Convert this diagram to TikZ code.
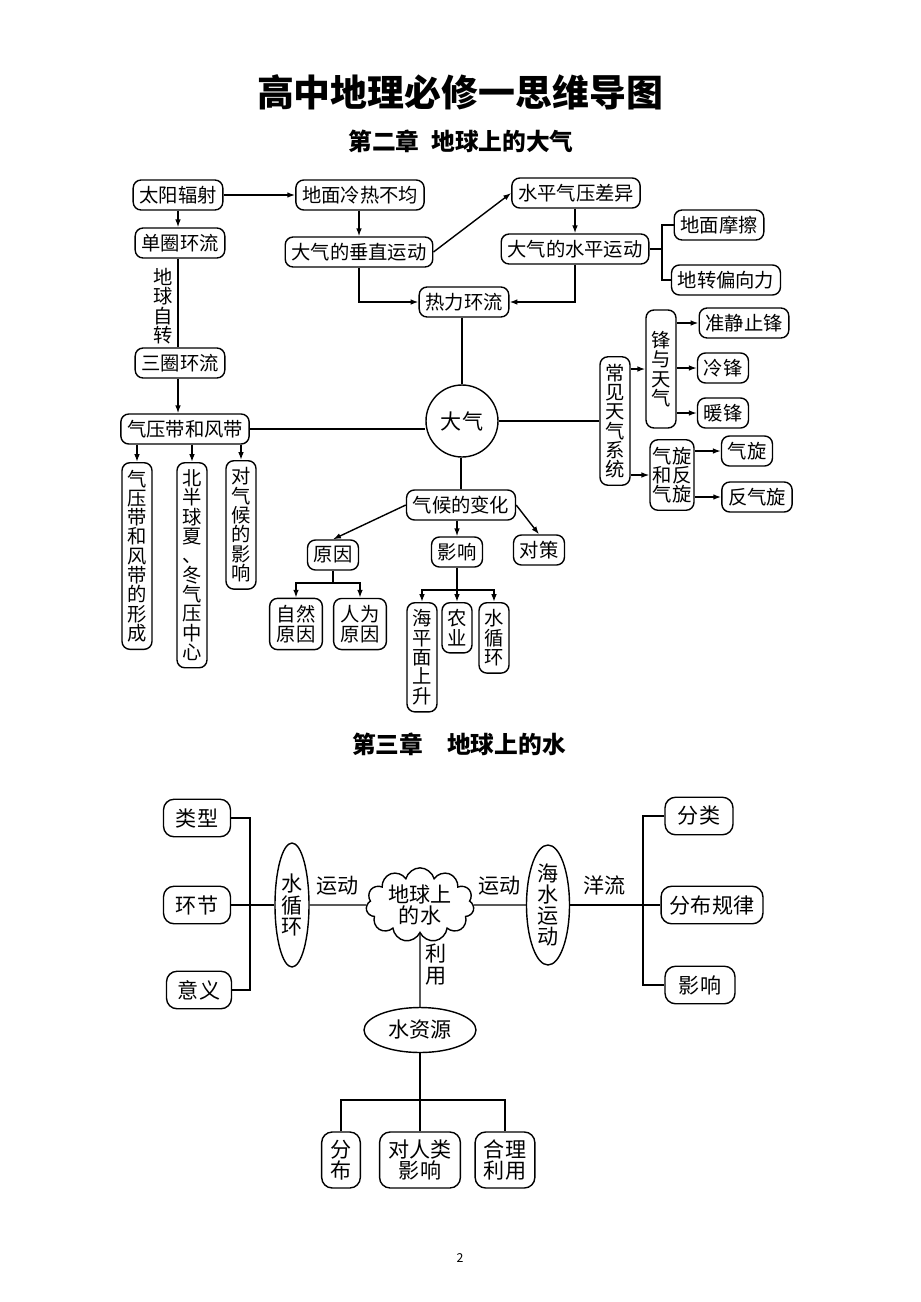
\documentclass[tikz,border=0pt]{standalone}
\usepackage{fontspec}
\setmainfont{Noto Sans CJK SC}
\usetikzlibrary{arrows.meta,shapes.geometric,shapes.symbols}
\lineskiplimit=-5pt
\begin{document}
\begin{tikzpicture}[x=0.02cm,y=-0.02cm,line width=0.8pt,
    box/.style={draw,rounded corners=4.5pt,inner xsep=3.5pt,inner ysep=1pt,minimum height=0.6cm,font=\fontsize{11}{11}\selectfont},
    vbox/.style={box,align=center,inner xsep=1.5pt,inner ysep=4pt,minimum width=0.6cm},
    sbox/.style={draw,rounded corners=6pt,align=center,inner xsep=5pt,inner ysep=4pt,minimum height=0.75cm,font=\fontsize{12}{12}\selectfont},
    oval/.style={draw,ellipse,inner sep=0pt,align=center,font=\fontsize{12}{12}\selectfont},
    lbl/.style={inner sep=1pt,align=center,font=\fontsize{12}{12}\selectfont},
    head/.style={font=\bfseries\fontsize{13.5}{13.5}\selectfont},
    arr/.style={-{Latex[length=4.5pt,width=3.2pt]}}]
    \useasboundingbox (0,0) rectangle (920,1302);

    \node[font=\bfseries\fontsize{21}{21}\selectfont] (title) at (460,92) {高中地理必修一思维导图};
    \node[head] (ch2) at (461,141) {第二章\hspace{0.5em}地球上的大气};
    \node[head] (ch3) at (459,744) {第三章\hspace{1em}地球上的水};
    \node[font=\fontsize{7}{7}\selectfont] (page) at (460,1258) {2};

    % chapter 2
    \node[box] (tyfs) at (178,195) {太阳辐射};
    \node[box] (dmlr) at (360,195) {地面冷热不均};
    \node[box] (dqhl) at (180,243) {单圈环流};
    \node[box] (czyd) at (359,252) {大气的垂直运动};
    \node[box] (sqhl) at (180,363) {三圈环流};
    \node[box] (rlhl) at (464,302) {热力环流};
    \node[box] (spqy) at (576,193) {水平气压差异};
    \node[box] (spyd) at (575,249) {大气的水平运动};
    \node[box] (dmmc) at (719,225) {地面摩擦};
    \node[box] (dzpx) at (726,280) {地转偏向力};
    \node[box] (qydfd) at (185,429) {气压带和风带};
    \node[draw,circle,minimum size=1.44cm,inner sep=0pt,font=\fontsize{12}{12}\selectfont] (daqi) at (462,421) {大气};
    \node[vbox,draw=none] (dqzz) at (163,306) {地\\球\\自\\转};

    \node[vbox,anchor=north] (xingc) at (137,462) {气\\压\\带\\和\\风\\带\\的\\形\\成};
    \node[vbox,anchor=north] (qyzx) at (192,462) {北\\半\\球\\夏\\、\\冬\\气\\压\\中\\心};
    \node[vbox,anchor=north] (qhyx) at (241,460) {对\\气\\候\\的\\影\\响};

    \node[vbox] (cjtq) at (615,421) {常\\见\\天\\气\\系\\统};
    \node[vbox,minimum height=2.36cm] (fytq) at (661,369) {锋\\与\\天\\气};
    \node[vbox] (qxfqx) at (672,475) {气旋\\和反\\气旋};
    \node[box] (zjzf) at (744,323) {准静止锋};
    \node[box] (lengf) at (723,368) {冷锋};
    \node[box] (nuanf) at (723,413) {暖锋};
    \node[box] (qx) at (747,451) {气旋};
    \node[box] (fqx) at (757,497) {反气旋};

    \node[box] (qhbh) at (461,505) {气候的变化};
    \node[box] (yuany) at (333,555) {原因};
    \node[box] (yingx) at (457,552) {影响};
    \node[box] (duice) at (539,550) {对策};
    \node[vbox,inner xsep=4pt] (zryy) at (296,624) {自然\\原因};
    \node[vbox,inner xsep=4pt] (rwyy) at (360,624) {人为\\原因};
    \node[vbox,anchor=north] (hpm) at (422,602) {海\\平\\面\\上\\升};
    \node[vbox,anchor=north] (nongye) at (457,602) {农\\业};
    \node[vbox,anchor=north] (sxh) at (494,602) {水\\循\\环};
    \coordinate (yyfk) at (333,583);
    \coordinate (yxfk) at (457,590);
    \coordinate (fk1) at (662,249);

    \draw[arr] (tyfs) -- (dmlr);
    \draw[arr] (tyfs) -- (tyfs.south |- dqhl.north);
    \draw (dqhl.south -| tyfs) -- (sqhl.north -| tyfs);
    \draw[arr] (sqhl.south -| tyfs) -- (qydfd.north -| tyfs);
    \draw[arr] (dmlr.south -| czyd) -- (czyd);
    \draw[arr] (czyd.south) |- (rlhl.west);
    \draw[arr] (czyd.east) -- (spqy.west);
    \draw[arr] (spqy.south -| spyd) -- (spyd);
    \draw[arr] (spyd.south) |- (rlhl.east);
    \draw (spyd.east) -- (fk1);
    \draw (dmmc.west) -| (fk1) |- (dzpx.west);
    \draw (rlhl.south -| daqi) -- (daqi);
    \draw (qydfd.east) -- (qydfd.east -| daqi.west);
    \draw (daqi) -- (cjtq);
    \foreach \n in {xingc,qyzx,qhyx}
        \draw[arr] (qydfd.south -| \n) -- (\n);
    \draw[arr] (cjtq.east |- fytq.west) -- (fytq.west);
    \draw[arr] (cjtq.east |- qxfqx.west) -- (qxfqx.west);
    \foreach \n in {zjzf,lengf,nuanf}
        \draw[arr] (fytq.east |- \n.west) -- (\n.west);
    \foreach \n in {qx,fqx}
        \draw[arr] (qxfqx.east |- \n.west) -- (\n.west);
    \draw (daqi.south -| qhbh) -- (qhbh);
    \draw[arr] (qhbh.west) -- (yuany.north);
    \draw[arr] (qhbh.south -| yingx) -- (yingx);
    \draw[arr] (qhbh.east) -- (duice.north);
    \draw (yuany) -- (yyfk);
    \draw[arr] (yyfk) -| (zryy);
    \draw[arr] (yyfk) -| (rwyy);
    \draw[arr] (yingx) -- (nongye);
    \draw[arr] (yxfk) -| (hpm);
    \draw[arr] (yxfk) -| (sxh);

    % chapter 3
    \node[sbox,minimum width=1.34cm] (leix) at (197,818) {类型};
    \node[sbox,minimum width=1.34cm] (huanj) at (197,905) {环节};
    \node[sbox,minimum width=1.3cm] (yiyi) at (199,990) {意义};
    \node[oval,minimum width=0.68cm,minimum height=2.48cm] (sxhuan) at (292,905) {水\\循\\环};
    \node[draw,cloud,cloud puffs=11,cloud ignores aspect,minimum width=2.16cm,minimum height=1.3cm,inner sep=0pt,align=center,font=\fontsize{12}{12}\selectfont] (dqsw) at (420,905) {地球上\\的水};
    \node[oval,minimum width=0.86cm,minimum height=2.4cm] (hsyd) at (548,905) {海\\水\\运\\动};
    \node[oval,minimum width=2.24cm,minimum height=0.9cm] (szy) at (420,1030) {水资源};
    \node[sbox,minimum width=1.36cm] (fenl) at (699,816) {分类};
    \node[sbox] (fbgl) at (712,905) {分布规律};
    \node[sbox,minimum width=1.4cm] (yxiang) at (700,985) {影响};
    \node[sbox,minimum height=1.12cm] (fenbu) at (341,1160) {分\\布};
    \node[sbox,minimum height=1.12cm] (drly) at (420,1160) {对人类\\影响};
    \node[sbox,minimum height=1.12cm] (hlly) at (505,1160) {合理\\利用};
    \coordinate (lfk) at (250,905);
    \coordinate (rfk) at (643,905);
    \coordinate (bfk) at (420,1100);

    \draw (leix) -| (lfk) |- (yiyi);
    \draw (huanj) -- (sxhuan);
    \draw (sxhuan) -- (dqsw) node[lbl,midway,above=4pt] {运动};
    \draw (dqsw) -- (hsyd) node[lbl,midway,above=4pt] {运动};
    \draw (hsyd) -- (fbgl) node[lbl,pos=0.38,above=4pt] {洋流};
    \draw (fenl) -| (rfk) |- (yxiang);
    \draw (dqsw) -- (szy) node[lbl,pos=0.42,right=2pt] {利\\用};
    \draw (szy) -- (drly);
    \draw (bfk) -| (fenbu);
    \draw (bfk) -| (hlly);
\end{tikzpicture}
\end{document}
